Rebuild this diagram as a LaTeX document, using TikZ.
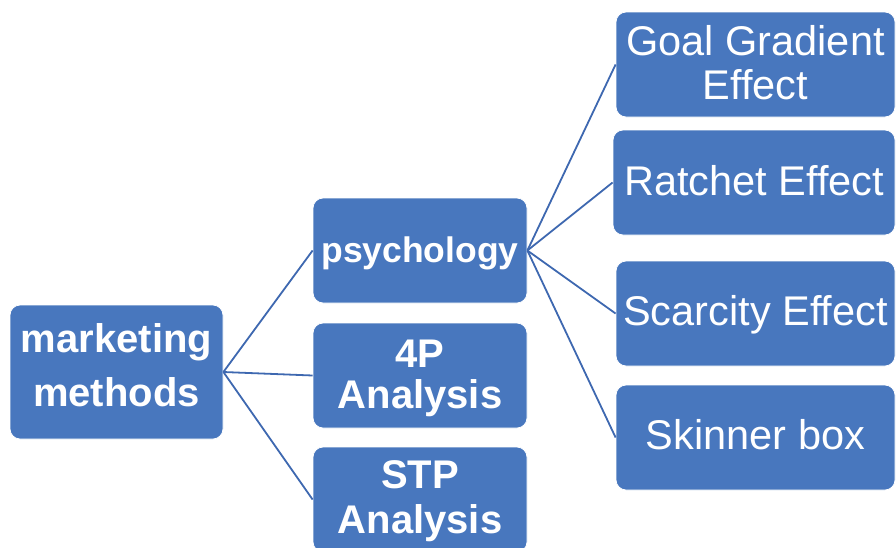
\documentclass[tikz,border=0pt]{standalone}
\usepackage{fontspec}
\setmainfont{Liberation Sans}
\definecolor{boxblue}{RGB}{72,119,190}
\definecolor{lineblue}{RGB}{62,104,176}
\newcommand{\btext}[2]{\raisebox{#1}[\height][\depth]{\begin{tabular}{@{}c@{}}#2\end{tabular}}}
\begin{document}
\begin{tikzpicture}[x=1pt,y=-1pt,
  box/.style={draw=white,line width=0.8pt,fill=boxblue,rounded corners=10pt,text=white,
    inner sep=0pt,anchor=center},
  rootbox/.style={box,minimum width=213pt,minimum height=134pt,
    font=\fontsize{40}{54}\selectfont\bfseries},
  midbox/.style={box,minimum width=214pt,minimum height=105pt},
  leafbox/.style={box,minimum width=279pt,minimum height=105pt,
    font=\fontsize{41.5}{44}\selectfont},
  link/.style={draw=lineblue,line width=1.8pt}]
\useasboundingbox (0,0) rectangle (896,547);
\clip (0,0) rectangle (896,547);
\node[rootbox] (root) at (116.5,372) {\btext{3pt}{marketing\\methods}};
\node[midbox,font=\fontsize{35.5}{40}\selectfont\bfseries] (psy) at (420,250.5) {\btext{-3.5pt}{psychology}};
\node[midbox,font=\fontsize{40}{40}\selectfont\bfseries] (fourp) at (420,375.5) {\btext{-4.5pt}{4P\\Analysis}};
\node[midbox,font=\fontsize{40}{45}\selectfont\bfseries] (stp) at (420,499.5) {\btext{-2pt}{STP\\Analysis}};
\node[leafbox] (goal) at (755.5,64.5) {\btext{-3.7pt}{Goal Gradient\\Effect}};
\node[leafbox,minimum width=282pt] (ratchet) at (754,182.5) {\btext{-3.7pt}{Ratchet Effect}};
\node[leafbox] (scarcity) at (755.5,313.5) {\btext{-2.7pt}{Scarcity Effect}};
\node[leafbox] (skinner) at (755.5,437.5) {\btext{-2.7pt}{Skinner box}};
\draw[link] (root.east) -- (psy.west);
\draw[link] (root.east) -- (fourp.west);
\draw[link] (root.east) -- (stp.west);
\draw[link] (psy.east) -- (goal.west);
\draw[link] (psy.east) -- (ratchet.west);
\draw[link] (psy.east) -- (scarcity.west);
\draw[link] (psy.east) -- (skinner.west);
\end{tikzpicture}
\end{document}
